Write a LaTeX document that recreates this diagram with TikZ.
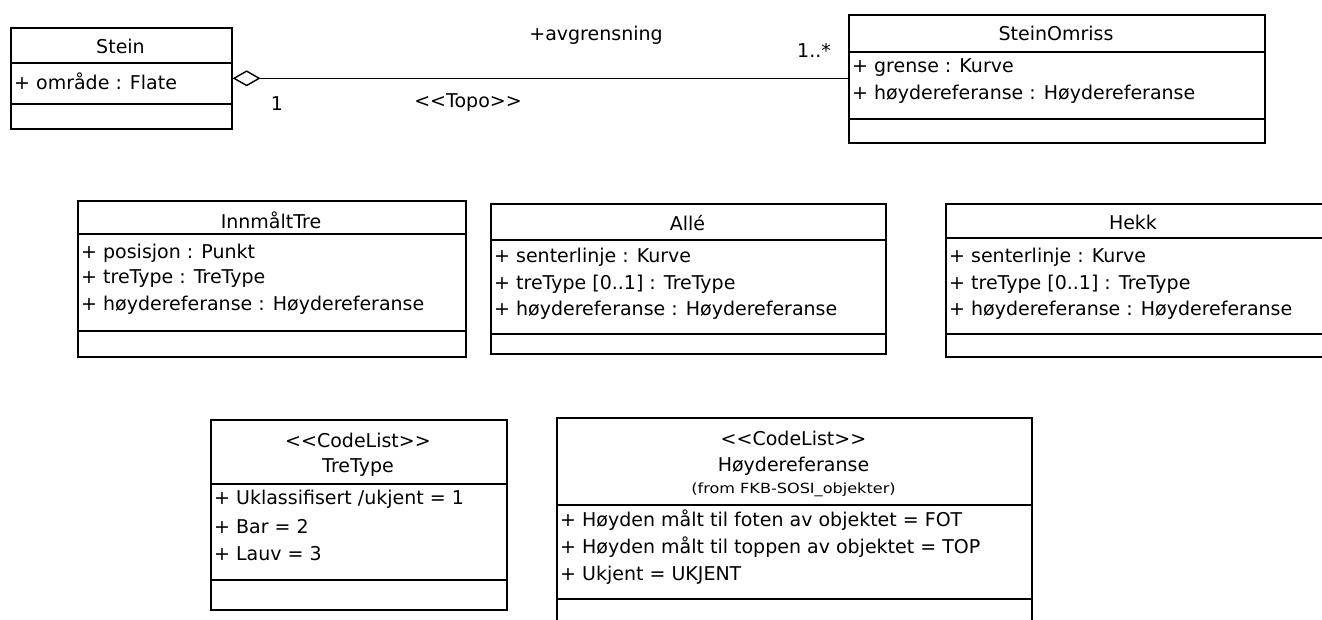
\documentclass[tikz,border=0pt]{standalone}
\usepackage{fontspec}
\usepackage{graphicx}
\newfontfamily\umlfont{DejaVu Sans}
\usetikzlibrary{arrows.meta}
\tikzset{
  cls/.style={draw, line width=1.6pt, inner sep=0pt, anchor=north west},
  divider/.style={line width=1.6pt},
  txt/.style={inner sep=0pt},
  attr/.style={inner sep=0pt, anchor=west},
  assoc/.style={line width=1.6pt, {Diamond[open, length=28pt, width=16pt, line width=1.4pt]}-},
  smallfont/.style={font=\umlfont\fontsize{14}{16}\selectfont}
}
\begin{document}
\begin{tikzpicture}[x=1pt, y=-1pt, font=\umlfont\fontsize{19}{23}\selectfont]
\useasboundingbox (0,0) rectangle (1322,619);
\clip (0,0) rectangle (1322,619);

% Stein
\node[cls, minimum width=221pt, minimum height=101pt] (stein) at (10,27) {};
\draw[divider] ([yshift=-36pt]stein.north west) -- ([yshift=-36pt]stein.north east);
\draw[divider] ([yshift=-77pt]stein.north west) -- ([yshift=-77pt]stein.north east);
\node[txt] (steinN) at (120.5,46) {Stein};
\node[attr] (steinA1) at (14,81) {+ område : Flate};

% SteinOmriss
\node[cls, minimum width=416pt, minimum height=128pt] (omriss) at (848,14) {};
\draw[divider] ([yshift=-38pt]omriss.north west) -- ([yshift=-38pt]omriss.north east);
\draw[divider] ([yshift=-105pt]omriss.north west) -- ([yshift=-105pt]omriss.north east);
\node[txt] (omrissN) at (1056,33) {SteinOmriss};
\node[attr] (omrissA1) at (852,68) {+ grense : Kurve};
\node[attr] (omrissA2) at (852,94) {+ høydereferanse : Høydereferanse};

% association
\draw[assoc] (stein.east) -- (stein.east -| omriss.west);
\node[txt] (rolename) at (596,35) {+avgrensning};
\node[txt] (multB) at (814,50) {1..*};
\node[txt] (multA) at (277,104) {1};
\node[txt] (stereoTopo) at (468,103) {<<Topo>>};

% InnmaltTre
\node[cls, minimum width=388pt, minimum height=156pt] (tre) at (77,200) {};
\draw[divider] ([yshift=-34pt]tre.north west) -- ([yshift=-34pt]tre.north east);
\draw[divider] ([yshift=-131pt]tre.north west) -- ([yshift=-131pt]tre.north east);
\node[txt] (treN) at (271,220) {InnmåltTre};
\node[attr] (treA1) at (81,253) {+ posisjon : Punkt};
\node[attr] (treA2) at (81,279) {+ treType : TreType};
\node[attr] (treA3) at (81,305) {+ høydereferanse : Høydereferanse};

% Alle
\node[cls, minimum width=395pt, minimum height=150pt] (alle) at (490,203) {};
\draw[divider] ([yshift=-37pt]alle.north west) -- ([yshift=-37pt]alle.north east);
\draw[divider] ([yshift=-131pt]alle.north west) -- ([yshift=-131pt]alle.north east);
\node[txt] (alleN) at (687.5,223) {Allé};
\node[attr] (alleA1) at (494,257) {+ senterlinje : Kurve};
\node[attr] (alleA2) at (494,284) {+ treType [0..1] : TreType};
\node[attr] (alleA3) at (494,310) {+ høydereferanse : Høydereferanse};

% Hekk
\node[cls, minimum width=378pt, minimum height=153pt] (hekk) at (945,203) {};
\draw[divider] ([yshift=-35pt]hekk.north west) -- ([yshift=-35pt]hekk.north east);
\draw[divider] ([yshift=-131pt]hekk.north west) -- ([yshift=-131pt]hekk.north east);
\node[txt] (hekkN) at (1133,222) {Hekk};
\node[attr] (hekkA1) at (949,257) {+ senterlinje : Kurve};
\node[attr] (hekkA2) at (949,284) {+ treType [0..1] : TreType};
\node[attr] (hekkA3) at (949,310) {+ høydereferanse : Høydereferanse};

% TreType
\node[cls, minimum width=296pt, minimum height=190pt] (tretype) at (210,419) {};
\draw[divider] ([yshift=-65pt]tretype.north west) -- ([yshift=-65pt]tretype.north east);
\draw[divider] ([yshift=-161pt]tretype.north west) -- ([yshift=-161pt]tretype.north east);
\node[txt] (tretypeS) at (358,440) {<<CodeList>>};
\node[txt] (tretypeN) at (358,468) {TreType};
\node[attr] (tretypeA1) at (214,499) {+ Uklassifisert /ukjent = 1};
\node[attr] (tretypeA2) at (214,527) {+ Bar = 2};
\node[attr] (tretypeA3) at (214,554) {+ Lauv = 3};

% Hoydereferanse
\node[cls, minimum width=475pt, minimum height=230pt] (hoyde) at (556,417) {};
\draw[divider] ([yshift=-88pt]hoyde.north west) -- ([yshift=-88pt]hoyde.north east);
\draw[divider] ([yshift=-182pt]hoyde.north west) -- ([yshift=-182pt]hoyde.north east);
\node[txt] (hoydeS) at (793.5,438) {<<CodeList>>};
\node[txt] (hoydeN) at (793.5,466) {Høydereferanse};
\node[txt, smallfont] (hoydeF) at (793.5,490) {\scalebox{1.15}[1]{(from FKB-SOSI\_objekter)}};
\node[attr] (hoydeA1) at (560,520) {+ Høyden målt til foten av objektet = FOT};
\node[attr] (hoydeA2) at (560,547) {+ Høyden målt til toppen av objektet = TOP};
\node[attr] (hoydeA3) at (560,575) {+ Ukjent = UKJENT};
\end{tikzpicture}
\end{document}
